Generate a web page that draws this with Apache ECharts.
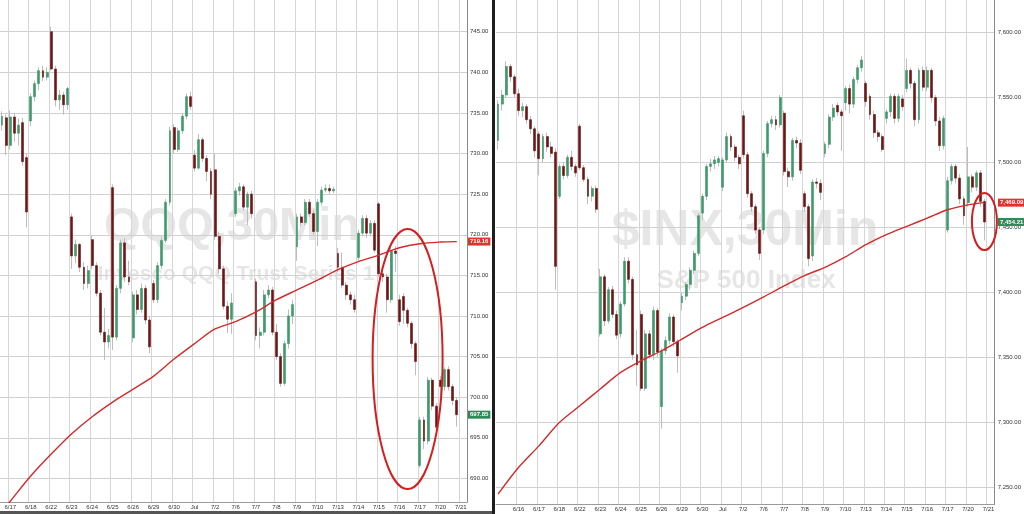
<!DOCTYPE html>
<html lang="en">
<head>
    <meta charset="UTF-8">
    <title>QQQ / $INX 30Min</title>
    <script src="https://cdn.jsdelivr.net/npm/echarts@6/dist/echarts.min.js"></script>
    <style>
        html, body { margin: 0; padding: 0; background: #fff; }
        #chart { width: 1024px; height: 514px; }
    </style>
</head>
<body>
<div id="chart"></div>
<script>
var BARS_PER_DAY = 5;
var TRAIL = 2; // empty slots after the last session

// ---- QQQ 30 min, rows are [open, close, low, high] ----
var qqqDays = ['6/17', '6/18', '6/22', '6/23', '6/24', '6/25', '6/26', '6/29', '6/30', 'Jul', '7/2',
    '7/6', '7/7', '7/8', '7/9', '7/10', '7/13', '7/14', '7/15', '7/16', '7/17', '7/20', '7/21'];
var qqqLead = 2; // bars of 6/16 shown before the first label
var qqqBars = [
    [733.5, 734.6, 732.8, 735.2], [734.4, 731.0, 729.8, 734.8],
    // 6/17
    [731.0, 734.5, 730.5, 735.3], [734.5, 732.5, 731.5, 735.0], [732.5, 733.5, 731.0, 734.3], [733.8, 729.0, 728.5, 734.4], [729.5, 722.8, 720.9, 730.0],
    // 6/18
    [734.0, 737.0, 733.4, 737.4], [737.0, 738.6, 736.4, 739.0], [738.6, 740.2, 737.8, 740.6], [740.2, 739.4, 738.9, 740.8], [739.4, 740.0, 739.0, 740.6],
    // 6/22
    [745.0, 740.4, 740.2, 745.6], [740.4, 736.6, 735.8, 740.8], [736.6, 737.2, 735.4, 737.8], [737.2, 736.0, 734.8, 737.6], [736.0, 738.0, 735.4, 738.2],
    // 6/23
    [722.2, 717.4, 715.8, 722.6], [717.4, 718.8, 716.5, 719.4], [718.8, 716.0, 715.4, 719.0], [716.0, 714.0, 713.2, 716.6], [714.0, 715.6, 713.4, 716.2],
    // 6/24
    [719.4, 716.2, 715.8, 719.9], [716.2, 712.8, 712.4, 716.6], [712.8, 708.0, 707.6, 713.2], [708.0, 706.8, 704.6, 711.0], [706.8, 707.6, 706.0, 708.4],
    // 6/25
    [725.8, 707.4, 705.8, 726.2], [707.4, 713.4, 707.0, 713.8], [713.4, 719.0, 712.8, 719.4], [719.0, 714.8, 714.2, 719.6], [714.8, 714.2, 713.8, 716.8],
    // 6/26
    [707.3, 712.6, 706.8, 713.0], [712.6, 710.8, 710.2, 713.2], [710.8, 713.4, 710.4, 714.0], [713.4, 709.5, 709.0, 713.8], [709.5, 706.2, 705.4, 710.0],
    // 6/29
    [714.0, 712.0, 711.6, 714.4], [712.0, 716.2, 711.6, 716.6], [716.2, 719.3, 715.8, 719.8], [719.3, 724.0, 719.0, 724.4], [724.0, 732.8, 723.6, 733.3],
    // 6/30
    [733.2, 730.5, 730.0, 733.6], [730.5, 732.8, 730.2, 733.2], [732.8, 734.6, 732.4, 735.0], [734.6, 737.0, 734.2, 737.4], [737.0, 735.8, 735.4, 737.6],
    // Jul
    [729.8, 728.2, 727.8, 730.4], [728.2, 731.7, 728.0, 732.4], [731.7, 729.4, 729.0, 732.0], [729.4, 727.8, 726.6, 729.8], [727.8, 725.0, 724.4, 728.2],
    // 7/2
    [728.0, 719.8, 719.4, 730.0], [719.8, 715.8, 715.2, 720.4], [715.8, 711.2, 710.8, 716.2], [711.2, 709.6, 707.9, 711.8], [709.6, 711.6, 707.8, 712.8],
    // 7/6
    [722.6, 725.4, 722.2, 725.8], [725.4, 725.9, 724.8, 726.4], [725.9, 723.4, 723.0, 726.2], [723.4, 725.0, 721.2, 725.3], [725.0, 722.6, 722.0, 725.4],
    // 7/7
    [714.2, 707.6, 707.0, 714.6], [707.6, 708.0, 706.0, 708.6], [708.0, 712.6, 707.6, 713.2], [712.6, 713.2, 712.2, 713.8], [713.2, 708.0, 707.6, 713.6],
    // 7/8
    [708.0, 705.0, 704.6, 709.0], [705.0, 701.7, 701.3, 705.4], [701.7, 706.6, 701.4, 707.0], [706.6, 710.0, 706.0, 710.8], [710.0, 711.4, 709.0, 712.0],
    // 7/9
    [718.5, 722.2, 716.8, 722.6], [722.2, 721.5, 721.0, 722.6], [721.5, 724.0, 721.2, 724.4], [724.0, 722.6, 722.2, 724.4], [722.6, 720.4, 720.0, 723.0],
    // 7/10
    [720.4, 724.0, 718.6, 724.4], [724.0, 725.5, 723.6, 725.9], [725.5, 725.7, 725.2, 726.2], [725.7, 725.4, 725.0, 726.2], [725.4, 725.6, 725.1, 725.9],
    // 7/13
    [717.7, 716.0, 715.4, 718.4], [716.0, 713.8, 713.4, 717.8], [713.8, 712.6, 712.0, 714.2], [712.6, 712.0, 711.4, 713.0], [712.0, 710.8, 710.4, 712.6],
    // 7/14
    [717.2, 720.2, 716.8, 720.6], [720.2, 722.0, 719.8, 722.4], [722.0, 720.2, 719.6, 722.4], [720.2, 721.4, 719.8, 721.8], [721.4, 718.1, 717.8, 721.8],
    // 7/15
    [723.8, 715.2, 714.8, 724.0], [715.2, 714.8, 714.2, 716.0], [714.8, 712.0, 710.4, 715.2], [712.0, 718.0, 711.6, 718.4], [718.0, 717.7, 715.4, 718.6],
    // 7/16
    [712.0, 709.3, 708.8, 712.6], [712.4, 710.7, 709.0, 712.8], [710.7, 709.1, 708.6, 711.0], [709.1, 706.6, 706.0, 709.4], [706.6, 704.4, 702.7, 706.9],
    // 7/17
    [691.6, 697.2, 691.3, 697.6], [697.2, 694.6, 693.6, 697.6], [694.6, 702.1, 694.2, 702.5], [702.1, 698.9, 698.4, 702.4], [698.9, 696.3, 695.8, 699.3],
    // 7/20
    [702.1, 701.3, 698.4, 702.6], [701.3, 703.4, 700.8, 703.7], [703.4, 701.3, 700.8, 703.8], [701.3, 699.6, 699.0, 701.6], [699.6, 697.85, 696.4, 700.0]
];
// moving average: left edge, each session start, last bar
var qqqMa = [686.0, 687.2, 690.3, 693.0, 695.5, 697.6, 699.4, 701.0, 702.6, 704.7, 706.6, 708.4,
    709.3, 710.5, 712.0, 713.2, 714.4, 715.7, 716.7, 717.5, 718.4, 718.9, 719.1, 719.16];
var qqqTicks = [690, 695, 700, 705, 710, 715, 720, 725, 730, 735, 740, 745];

// ---- $INX 30 min ----
var spxDays = ['6/16', '6/17', '6/18', '6/22', '6/23', '6/24', '6/25', '6/26', '6/29', '6/30', 'Jul', '7/2',
    '7/6', '7/7', '7/8', '7/9', '7/10', '7/13', '7/14', '7/15', '7/16', '7/17', '7/20', '7/21'];
var spxLead = 5; // 6/15 session
var spxBars = [
    [7517, 7545, 7510, 7548], [7545, 7552, 7540, 7556], [7552, 7574, 7550, 7578], [7574, 7566, 7562, 7576], [7566, 7553, 7550, 7568],
    // 6/16
    [7553, 7540, 7536, 7557], [7540, 7543, 7535, 7546], [7543, 7533, 7530, 7545], [7533, 7526, 7522, 7536], [7526, 7509, 7504, 7528],
    // 6/17
    [7522, 7503, 7490, 7524], [7503, 7520, 7500, 7522], [7520, 7512, 7508, 7523], [7512, 7507, 7504, 7516], [7508, 7420, 7402, 7511],
    // 6/18
    [7474, 7497, 7472, 7499], [7497, 7490, 7487, 7500], [7490, 7504, 7488, 7506], [7504, 7497, 7494, 7509], [7497, 7492, 7489, 7499],
    // 6/22
    [7528, 7496, 7494, 7530], [7496, 7487, 7485, 7498], [7487, 7474, 7468, 7489], [7474, 7480, 7470, 7482], [7480, 7464, 7461, 7482],
    // 6/23
    [7368, 7412, 7366, 7418], [7412, 7378, 7374, 7414], [7378, 7402, 7376, 7404], [7402, 7383, 7380, 7405], [7383, 7367, 7364, 7386],
    // 6/24
    [7368, 7391, 7365, 7393], [7391, 7424, 7389, 7427], [7424, 7410, 7407, 7427], [7410, 7352, 7348, 7412], [7352, 7344, 7328, 7371],
    // 6/25
    [7383, 7326, 7324, 7386], [7326, 7368, 7324, 7371], [7368, 7352, 7349, 7371], [7352, 7386, 7348, 7389], [7386, 7354, 7350, 7388],
    // 6/26
    [7312, 7355, 7295, 7357], [7355, 7363, 7352, 7366], [7363, 7381, 7360, 7384], [7381, 7362, 7358, 7383], [7362, 7351, 7338, 7364],
    // 6/29
    [7392, 7397, 7386, 7400], [7397, 7406, 7394, 7408], [7406, 7417, 7402, 7419], [7417, 7430, 7414, 7432], [7430, 7459, 7428, 7461],
    // 6/30
    [7461, 7474, 7456, 7476], [7474, 7497, 7471, 7499], [7497, 7499, 7493, 7503], [7499, 7502, 7495, 7505], [7500, 7503, 7497, 7505],
    // Jul
    [7481, 7502, 7478, 7504], [7502, 7520, 7500, 7523], [7520, 7512, 7509, 7522], [7512, 7504, 7501, 7514], [7504, 7499, 7495, 7506],
    // 7/2
    [7536, 7506, 7503, 7540], [7506, 7476, 7473, 7508], [7476, 7466, 7462, 7478], [7466, 7448, 7445, 7468], [7448, 7430, 7425, 7450],
    // 7/6
    [7448, 7507, 7445, 7509], [7507, 7530, 7504, 7532], [7530, 7533, 7527, 7536], [7533, 7529, 7525, 7536], [7529, 7550, 7527, 7552],
    // 7/7
    [7538, 7493, 7490, 7540], [7493, 7489, 7481, 7496], [7489, 7517, 7486, 7519], [7517, 7515, 7511, 7520], [7515, 7494, 7491, 7518],
    // 7/8
    [7476, 7466, 7462, 7478], [7466, 7426, 7420, 7468], [7428, 7485, 7424, 7487], [7485, 7484, 7480, 7488], [7484, 7477, 7471, 7487],
    // 7/9
    [7507, 7514, 7504, 7516], [7514, 7535, 7511, 7537], [7535, 7542, 7532, 7545], [7544, 7539, 7536, 7546], [7539, 7536, 7509, 7541],
    // 7/10
    [7546, 7557, 7540, 7559], [7557, 7545, 7538, 7560], [7545, 7564, 7542, 7566], [7564, 7573, 7561, 7575], [7573, 7579, 7570, 7582],
    // 7/13
    [7561, 7547, 7543, 7563], [7551, 7537, 7533, 7553], [7537, 7523, 7519, 7540], [7523, 7520, 7516, 7525], [7520, 7510, 7508, 7522],
    // 7/14
    [7534, 7539, 7530, 7541], [7539, 7551, 7535, 7553], [7551, 7534, 7530, 7553], [7534, 7551, 7531, 7553], [7549, 7543, 7540, 7552],
    // 7/15
    [7557, 7571, 7554, 7580], [7571, 7561, 7557, 7573], [7561, 7533, 7528, 7563], [7533, 7571, 7530, 7573], [7571, 7558, 7555, 7574],
    // 7/16
    [7558, 7571, 7555, 7574], [7571, 7550, 7546, 7573], [7550, 7532, 7528, 7552], [7532, 7513, 7509, 7535], [7513, 7534, 7510, 7536],
    // 7/17
    [7448, 7486, 7446, 7489], [7486, 7497, 7483, 7499], [7497, 7488, 7484, 7499], [7488, 7472, 7468, 7491], [7472, 7459, 7452, 7474],
    // 7/20
    [7469, 7489, 7466, 7512], [7489, 7481, 7477, 7491], [7481, 7492, 7478, 7494], [7492, 7470, 7466, 7494], [7470, 7454.21, 7440, 7472]
];
var spxMa = [7244.5, 7265, 7281.7, 7299.7, 7312.6, 7325.5, 7338.3, 7347.3, 7355, 7364, 7373, 7380.7, 7388.4,
    7396.5, 7405, 7412.9, 7419.3, 7427.3, 7436.7, 7444.4, 7450.8, 7457.2, 7463.6, 7467.4, 7469.09];
var spxTicks = [7250, 7300, 7350, 7400, 7450, 7500, 7550, 7600];

var UP = '#3d9a6b', DOWN = '#6e1515', WICK = '#bdbdbd', MA_RED = '#d42a2a';
var FONT = 'Liberation Sans, Arial, sans-serif';

function slotLabels(days, lead, count) {
    var labels = [];
    for (var i = 0; i < count; i++) {
        var k = i - lead;
        labels.push(k >= 0 && k % BARS_PER_DAY === 0 ? days[k / BARS_PER_DAY] : '');
    }
    return labels;
}

function maPoints(ma, lead, bars) {
    var pts = [[0, ma[0]]];
    for (var d = 1; d < ma.length - 1; d++) pts.push([lead + (d - 1) * BARS_PER_DAY, ma[d]]);
    pts.push([bars.length - 1, ma[ma.length - 1]]);
    return pts;
}

function bodies(bars) {
    return bars.map(function (b) { return [b[0], b[1], Math.min(b[0], b[1]), Math.max(b[0], b[1])]; });
}

var qqqCount = qqqLead + (qqqDays.length - 1) * BARS_PER_DAY + TRAIL;
var spxCount = spxLead + (spxDays.length - 1) * BARS_PER_DAY + TRAIL;
var qqqLabels = slotLabels(qqqDays, qqqLead, qqqCount);
var spxLabels = slotLabels(spxDays, spxLead, spxCount);

function xAxisFor(gridIndex, labels) {
    var cats = labels.map(function (l, i) { return 'b' + i; });
    var isDay = function (i) { return labels[i] !== ''; };
    return {
        type: 'category', gridIndex: gridIndex, data: cats, boundaryGap: true,
        axisLine: { lineStyle: { color: '#9a9a9a' } },
        axisTick: { show: false },
        axisLabel: {
            interval: isDay, margin: 2, fontSize: 6, color: '#333', fontFamily: FONT,
            formatter: function (v, i) { return labels[i]; }
        },
        splitLine: { show: true, interval: isDay, lineStyle: { color: '#d6d6d6', width: 1 } }
    };
}

function yAxisFor(gridIndex, min, max, ticks, fmt) {
    return {
        type: 'value', gridIndex: gridIndex, position: 'right', min: min, max: max,
        axisLine: { show: true, lineStyle: { color: '#8a8a8a' } },
        axisTick: { show: false, customValues: ticks },
        axisLabel: { customValues: ticks, margin: 3, fontSize: 6, color: '#333', fontFamily: FONT, formatter: fmt },
        splitLine: { show: true, lineStyle: { color: '#d0d0d0', width: 1 } }
    };
}

function candleSeries(axisIndex, bars) {
    return [{
        type: 'candlestick', xAxisIndex: axisIndex, yAxisIndex: axisIndex, data: bars,
        barWidth: 0.6, z: 2,
        itemStyle: { color: WICK, color0: WICK, borderColor: WICK, borderColor0: WICK, borderWidth: 1 }
    }, {
        type: 'candlestick', xAxisIndex: axisIndex, yAxisIndex: axisIndex, data: bodies(bars),
        barWidth: 2.4, z: 3,
        itemStyle: { color: UP, color0: DOWN, borderColor: UP, borderColor0: DOWN, borderWidth: 0.6 }
    }];
}

function maSeries(axisIndex, pts) {
    return {
        type: 'line', xAxisIndex: axisIndex, yAxisIndex: axisIndex, data: pts,
        smooth: 0.3, showSymbol: false, z: 4,
        lineStyle: { color: MA_RED, width: 1.4 }
    };
}

var chart = echarts.init(document.getElementById('chart'));
chart.setOption({
    animation: false,
    backgroundColor: '#fff',
    grid: [
        { left: 0, top: 0, width: 467, height: 502 },
        { left: 496, top: 0, width: 501, height: 504.7 }
    ],
    xAxis: [xAxisFor(0, qqqLabels), xAxisFor(1, spxLabels)],
    yAxis: [
        yAxisFor(0, 687.1, 748.9, qqqTicks, function (v) { return v.toFixed(2); }),
        yAxisFor(1, 7236.4, 7625.2, spxTicks, function (v) {
            return v.toLocaleString('en-US', { minimumFractionDigits: 2, maximumFractionDigits: 2 });
        })
    ],
    series: candleSeries(0, qqqBars)
        .concat([maSeries(0, maPoints(qqqMa, qqqLead, qqqBars))])
        .concat(candleSeries(1, spxBars))
        .concat([maSeries(1, maPoints(spxMa, spxLead, spxBars))])
});

// overlays: watermarks, price tags, circled areas, divider
function tag(gridIndex, idx, val, text, bg, x) {
    var p = chart.convertToPixel({ gridIndex: gridIndex }, [idx, val]);
    return {
        type: 'text', x: x, y: p[1], z: 50,
        style: {
            text: text, fill: '#fff', backgroundColor: bg, padding: [1, 2, 1, 2],
            font: 'bold 6px ' + FONT, verticalAlign: 'middle', align: 'left'
        }
    };
}
function ring(gridIndex, idx, val, rx, ry) {
    var p = chart.convertToPixel({ gridIndex: gridIndex }, [idx, val]);
    return {
        type: 'ellipse', z: 60, silent: true,
        shape: { cx: p[0], cy: p[1], rx: rx, ry: ry },
        style: { fill: null, stroke: '#d21f1f', lineWidth: 2 }
    };
}
function mark(text, x, y, size) {
    return {
        type: 'text', x: x, y: y, z: -10, silent: true,
        style: { text: text, fill: '#e6e6e6', font: 'bold ' + size + 'px ' + FONT, align: 'center', verticalAlign: 'middle' }
    };
}

var qqqLast = qqqBars[qqqBars.length - 1][1];
var spxLast = spxBars[spxBars.length - 1][1];
chart.setOption({
    graphic: [
        mark('QQQ,30Min', 232, 227, 47),
        mark('Invesco QQQ Trust Series 1', 236, 274, 21),
        mark('$INX,30Min', 745, 231, 50),
        mark('S&P 500 Index', 746, 281, 26),
        tag(0, qqqBars.length - 1, qqqMa[qqqMa.length - 1], qqqMa[qqqMa.length - 1].toFixed(2), '#e3312d', 468),
        tag(0, qqqBars.length - 1, qqqLast, qqqLast.toFixed(2), '#2f8a5a', 468),
        tag(1, spxBars.length - 1, spxMa[spxMa.length - 1],
            spxMa[spxMa.length - 1].toLocaleString('en-US', { minimumFractionDigits: 2 }), '#e3312d', 998),
        tag(1, spxBars.length - 1, spxLast,
            spxLast.toLocaleString('en-US', { minimumFractionDigits: 2 }), '#2f8a5a', 998),
        ring(0, 99, 704.7, 35, 130),
        ring(1, 119, 7454.5, 12.5, 28.5),
        { type: 'rect', z: 70, shape: { x: 492, y: 0, width: 3, height: 514 }, style: { fill: '#1e1e1e' } },
        { type: 'rect', z: 70, shape: { x: 0, y: 511, width: 492, height: 3 }, style: { fill: '#555' } }
    ]
});
</script>
</body>
</html>
